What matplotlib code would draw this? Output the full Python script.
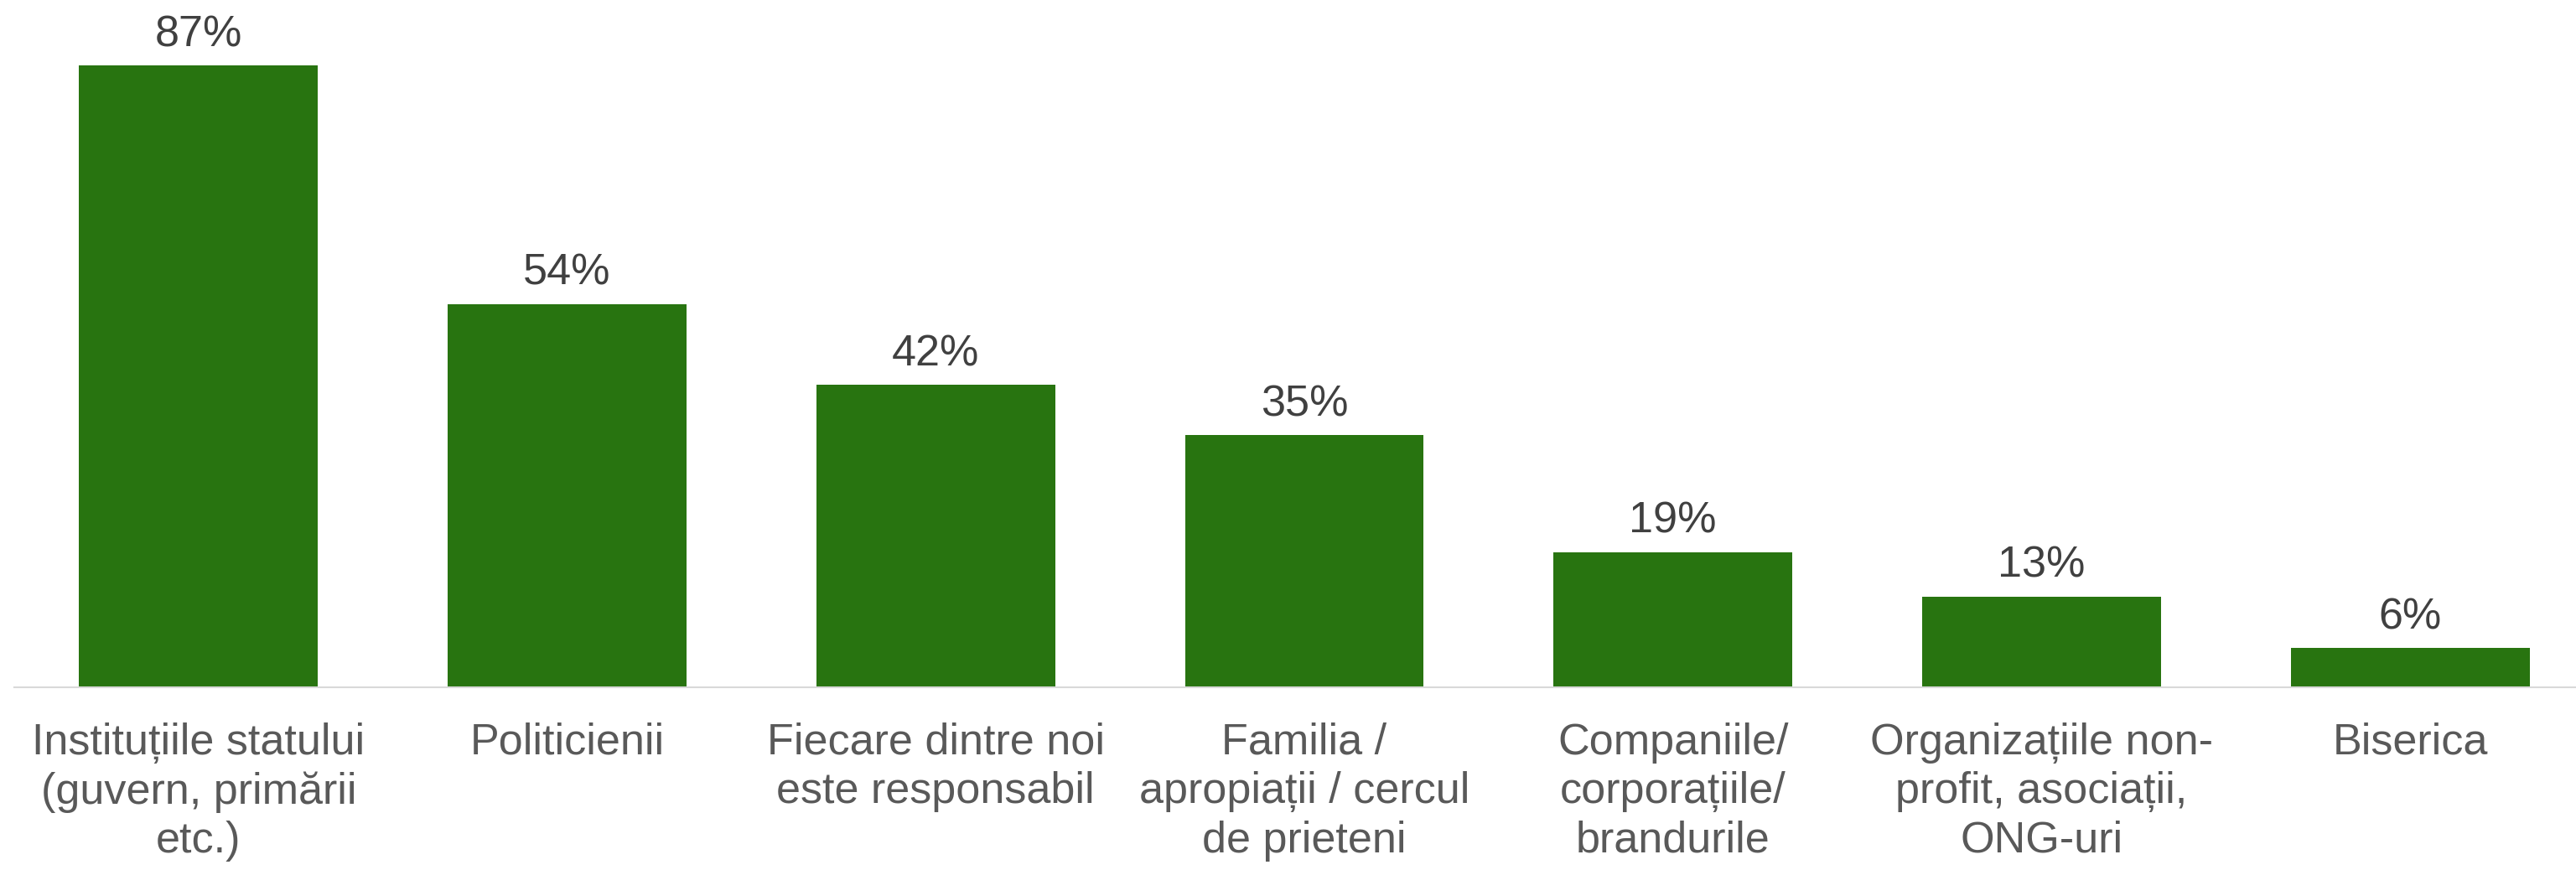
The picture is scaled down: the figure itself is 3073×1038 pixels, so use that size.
import matplotlib.pyplot as plt

# Data
categories = [
    'Instituțiile statului\n(guvern, primării\netc.)',
    'Politicienii',
    'Fiecare dintre noi\neste responsabil',
    'Familia /\napropiații / cercul\nde prieteni',
    'Companiile/\ncorporațiile/\nbrandurile',
    'Organizațiile non-\nprofit, asociații,\nONG-uri',
    'Biserica',
]
values = [87.0, 53.6, 42.3, 35.3, 18.9, 12.7, 5.5]
value_labels = ['87%', '54%', '42%', '35%', '19%', '13%', '6%']

bar_color = '#287410'
plt.rcParams['font.family'] = ['Liberation Sans', 'DejaVu Sans']

fig = plt.figure(figsize=(30.73, 10.38), dpi=100)
ax = fig.add_axes([17 / 3073, 218 / 1038, 1 - 17 / 3073, 820 / 1038])

x = range(len(categories))
bars = ax.bar(x, values, width=0.648, color=bar_color)

# value labels above bars
for b, lab in zip(bars, value_labels):
    ax.annotate(lab, (b.get_x() + b.get_width() / 2, b.get_height()),
                xytext=(0, 16.5), textcoords='offset points',
                ha='center', va='baseline', fontsize=37.5, color='#404040')

ax.set_xlim(-0.5, 6.45)
ax.set_ylim(0, 87 * 820 / 742)
ax.set_xticks(list(x))
ax.set_xticklabels(categories, fontsize=37.5, color='#595959', linespacing=1.25)
ax.tick_params(axis='x', length=0, pad=30)
ax.set_yticks([])

for side in ['top', 'right', 'left']:
    ax.spines[side].set_visible(False)
ax.spines['bottom'].set_color('#d9d9d9')
ax.spines['bottom'].set_linewidth(1.5)

plt.savefig('out.png', dpi=100)
plt.close()
